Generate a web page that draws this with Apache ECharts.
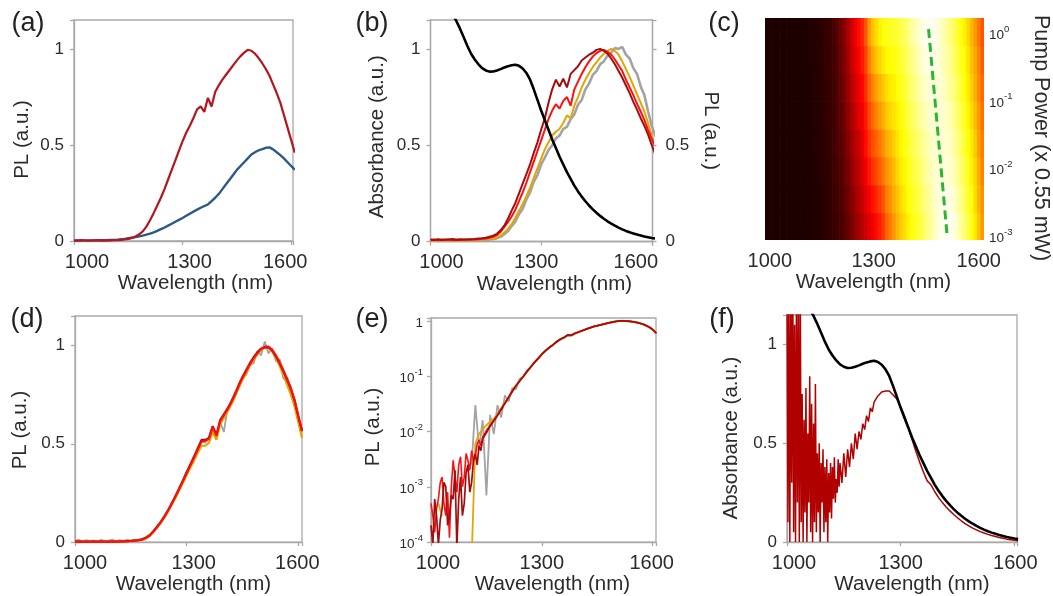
<!DOCTYPE html>
<html><head><meta charset="utf-8">
<script src="https://cdn.jsdelivr.net/npm/echarts@6/dist/echarts.min.js"></script>
<style>html,body{margin:0;padding:0;background:#fff}#c{width:1053px;height:596px}</style>
</head><body><div id="c"></div>
<script>
// ---------- shared wavelength grid (nm) ----------
const wl = [1000,1010,1020,1030,1040,1050,1060,1070,1080,1090,1100,1110,1120,1130,1140,1150,1160,1170,1180,1190,1200,1210,1220,1230,1240,1250,1260,1270,1280,1290,1300,1310,1320,1330,1340,1350,1360,1370,1380,1390,1400,1410,1420,1430,1440,1450,1460,1470,1480,1490,1500,1510,1520,1530,1540,1550,1560,1570,1580,1590,1600,1610];
const xTickLabels = [1000, 1300, 1600];
const yTickLabels = [0, 0.5, 1];

// ---------- (a) ----------
const plRedA = [.004,.002,.005,.003,.002,.004,.003,.005,.002,.004,.003,.004,.005,.006,.008,.011,.016,.024,.035,.05,.075,.108,.145,.185,.225,.27,.32,.37,.42,.47,.52,.563,.6,.64,.685,.70,.672,.745,.70,.775,.81,.84,.865,.89,.915,.94,.962,.98,.995,.99,.975,.952,.925,.895,.86,.815,.77,.72,.655,.59,.525,.46];
const plBlueA = [.002,.003,.002,.003,.003,.002,.004,.003,.004,.004,.005,.006,.007,.009,.011,.014,.017,.02,.024,.028,.033,.038,.045,.053,.062,.07,.08,.09,.1,.11,.12,.131,.142,.153,.163,.173,.182,.19,.208,.225,.245,.27,.295,.32,.345,.37,.39,.41,.43,.45,.462,.472,.478,.485,.487,.477,.462,.447,.43,.41,.39,.37];

// ---------- (b) & (f) absorbance ----------
const absorb = [1.42,1.38,1.34,1.30,1.26,1.22,1.18,1.145,1.105,1.06,1.015,.975,.945,.92,.9,.888,.882,.883,.888,.895,.903,.91,.915,.918,.912,.898,.875,.84,.79,.735,.68,.63,.58,.53,.485,.44,.4,.36,.325,.29,.26,.233,.209,.187,.167,.149,.133,.118,.105,.093,.082,.072,.063,.055,.048,.042,.036,.031,.026,.022,.018,.015];
// ---------- (b) PL at four pump powers ----------
const plDkB = [.01,.008,.012,.009,.011,.01,.013,.009,.012,.011,.01,.012,.013,.015,.017,.02,.025,.03,.04,.058,.082,.118,.16,.2,.25,.3,.35,.4,.46,.515,.58,.64,.72,.79,.84,.805,.845,.8,.87,.89,.91,.94,.955,.97,.98,.995,1.0,.99,.975,.95,.92,.885,.85,.81,.77,.725,.685,.64,.6,.555,.5,.45];
const plRedB = [.008,.01,.007,.009,.008,.01,.007,.009,.008,.009,.01,.01,.011,.012,.014,.016,.02,.025,.032,.05,.075,.1,.13,.165,.21,.255,.305,.36,.415,.47,.525,.58,.635,.68,.713,.69,.73,.75,.705,.79,.83,.87,.905,.935,.96,.978,.99,.995,.985,.97,.945,.915,.885,.84,.8,.76,.715,.675,.63,.58,.533,.49];
const plGoldB = [.006,.005,.007,.006,.005,.006,.007,.005,.006,.006,.007,.007,.008,.009,.01,.012,.014,.016,.02,.03,.046,.065,.09,.123,.16,.195,.235,.28,.33,.38,.43,.478,.515,.55,.57,.585,.615,.655,.64,.705,.75,.8,.84,.875,.905,.93,.955,.975,.99,1.0,.99,.97,.935,.895,.855,.81,.765,.72,.675,.615,.55,.5];
const plGrayB = [.006,.004,.008,.005,.007,.004,.006,.008,.005,.007,.006,.005,.007,.006,.008,.007,.01,.012,.017,.024,.038,.053,.08,.103,.142,.17,.218,.255,.31,.345,.4,.435,.475,.5,.535,.55,.585,.595,.635,.66,.71,.735,.79,.82,.865,.885,.92,.935,.965,.98,1.005,1.0,1.01,.97,.95,.9,.87,.805,.76,.675,.6,.545];

// ---------- (c) heat map: normalised PL vs wavelength, rows = pump power ----------
const pumpLog = [-2.85,-2.44,-2.03,-1.62,-1.21,-0.80,-0.39,0.02];
const heatR0 = [.03,.03,.03,.03,.03,.03,.03,.03,.03,.03,.03,.03,.032,.035,.04,.045,.05,.055,.065,.075,.09,.105,.125,.15,.18,.21,.24,.27,.3,.33,.36,.39,.42,.46,.52,.56,.6,.64,.675,.7,.73,.76,.78,.8,.83,.86,.89,.92,.95,.97,.985,.99,.985,.97,.94,.9,.86,.82,.77,.72,.66,.6];
const heatR1 = [.03,.03,.03,.03,.03,.03,.03,.03,.03,.03,.03,.03,.032,.036,.041,.046,.051,.057,.068,.079,.096,.114,.136,.164,.197,.23,.26,.29,.33,.37,.4,.43,.46,.5,.56,.59,.63,.66,.7,.72,.75,.78,.8,.82,.85,.88,.9,.93,.95,.97,.98,.98,.97,.95,.92,.88,.84,.8,.75,.7,.64,.59];
const heatR2 = [.03,.03,.03,.03,.03,.03,.03,.03,.03,.03,.03,.031,.033,.036,.041,.046,.053,.059,.071,.082,.101,.122,.146,.179,.214,.25,.28,.32,.36,.41,.45,.48,.51,.55,.59,.62,.65,.69,.72,.74,.77,.8,.82,.84,.87,.9,.92,.94,.96,.96,.97,.96,.95,.93,.9,.86,.82,.78,.73,.69,.63,.57];
const heatR3 = [.03,.03,.03,.03,.03,.03,.03,.03,.03,.03,.03,.031,.033,.037,.042,.047,.054,.061,.074,.086,.107,.131,.157,.193,.231,.27,.3,.34,.39,.45,.49,.52,.55,.59,.63,.65,.68,.71,.74,.76,.79,.82,.84,.86,.89,.91,.93,.95,.96,.96,.96,.95,.94,.91,.88,.84,.8,.76,.72,.67,.61,.56];
const heatR4 = [.03,.03,.03,.03,.03,.03,.03,.03,.03,.03,.03,.031,.034,.038,.043,.048,.056,.064,.076,.089,.113,.139,.168,.207,.249,.29,.33,.36,.41,.48,.53,.57,.6,.63,.67,.69,.71,.73,.76,.78,.81,.84,.86,.89,.91,.93,.95,.96,.96,.96,.95,.94,.92,.89,.86,.82,.78,.74,.7,.65,.6,.54];
const heatR5 = [.03,.03,.03,.03,.03,.03,.03,.03,.03,.03,.03,.031,.034,.039,.044,.049,.057,.066,.079,.093,.119,.148,.179,.221,.266,.31,.35,.38,.44,.52,.57,.61,.64,.67,.7,.72,.73,.75,.78,.8,.83,.86,.88,.91,.93,.95,.96,.97,.96,.96,.94,.92,.9,.87,.84,.8,.76,.72,.68,.63,.58,.53];
const heatR6 = [.03,.03,.03,.03,.03,.03,.03,.03,.03,.03,.03,.032,.035,.039,.044,.049,.059,.068,.082,.096,.124,.156,.189,.236,.283,.33,.37,.41,.47,.56,.62,.66,.69,.72,.74,.75,.76,.78,.8,.82,.85,.88,.9,.93,.95,.97,.98,.98,.97,.95,.93,.91,.89,.85,.82,.78,.75,.71,.66,.62,.57,.51];
const heatR7 = [.03,.03,.03,.03,.03,.03,.03,.03,.03,.03,.03,.032,.035,.04,.045,.05,.06,.07,.085,.1,.13,.165,.2,.25,.3,.35,.39,.43,.5,.6,.66,.7,.73,.76,.775,.78,.79,.8,.82,.845,.87,.9,.925,.95,.97,.985,.99,.985,.97,.95,.925,.9,.87,.835,.8,.765,.73,.69,.645,.6,.55,.5];
const heatRows = [heatR0, heatR1, heatR2, heatR3, heatR4, heatR5, heatR6, heatR7];
const peakWl = [1510, 1457];
const peakLog = [-2.95, 0.12];
const pumpTickLabels = [-3, -2, -1, 0];

// ---------- (d) normalised PL ----------
const plRedD = [.002,.003,.002,.001,.003,.002,.002,.003,.001,.002,.003,.002,.003,.004,.004,.005,.007,.009,.012,.02,.032,.052,.075,.1,.128,.16,.195,.232,.27,.31,.35,.39,.43,.47,.51,.515,.525,.585,.54,.615,.645,.675,.71,.75,.795,.835,.87,.905,.935,.96,.982,.995,.995,.978,.95,.915,.875,.83,.785,.725,.645,.57];
const plDkD = [.003,.002,.003,.002,.002,.003,.002,.002,.003,.002,.002,.003,.003,.004,.005,.006,.008,.01,.014,.022,.034,.054,.077,.102,.13,.162,.197,.235,.273,.313,.355,.395,.435,.478,.52,.52,.53,.59,.545,.62,.65,.68,.715,.755,.8,.84,.875,.91,.94,.965,.985,.99,.99,.975,.945,.91,.87,.825,.78,.72,.64,.565];
const plGoldD = [.002,.001,.002,.002,.001,.002,.002,.001,.002,.002,.002,.002,.003,.003,.004,.005,.006,.008,.011,.018,.03,.05,.072,.097,.124,.155,.19,.226,.263,.302,.34,.378,.415,.455,.49,.49,.505,.56,.52,.6,.63,.665,.7,.74,.785,.825,.862,.898,.928,.955,.978,.99,.988,.968,.935,.895,.85,.8,.75,.69,.61,.53];
const plGrayD = [.006,.012,.003,.01,.004,.009,.002,.011,.005,.008,.013,.004,.01,.006,.012,.007,.011,.009,.016,.02,.036,.05,.08,.098,.132,.158,.2,.228,.275,.305,.355,.385,.438,.462,.515,.505,.53,.58,.535,.61,.56,.68,.7,.758,.78,.84,.85,.9,.91,.97,.95,1.02,.96,.985,.92,.93,.83,.84,.77,.72,.63,.56];

// ---------- (e) PL on log scale ----------
// noisy tails, 5 nm steps (1000-1145 nm)
const eTailWl = [1000,1005,1010,1015,1020,1025,1030,1035,1040,1045,1050,1055,1060,1065,1070,1075,1080,1085,1090,1095,1100,1105,1110,1115,1120,1125,1130,1135,1140,1145];
const plRedETail = [5e-4,3e-4,1.5e-4,4e-4,6e-4,1.2e-3,1.5e-3,5e-4,3e-4,8e-4,1.2e-4,1e-3,3e-3,1.5e-3,8e-4,2.5e-3,3.5e-3,1e-3,1.5e-3,4e-3,3e-3,2e-3,4.5e-3,3e-3,3.5e-3,6e-3,7e-3,5.5e-3,8e-3,9e-3];
const plDkETail = [2e-4,9e-5,6e-4,3e-4,9e-5,2.5e-4,4e-4,1.2e-3,1e-3,2e-4,3e-4,7e-4,6e-4,2e-3,8e-5,6e-4,1.5e-3,3e-4,5e-4,1.8e-3,2.5e-3,8e-4,1.2e-3,3e-3,4e-3,2.5e-3,5.5e-3,4.5e-3,7.5e-3,8e-3];
// 1150-1610 nm, 10 nm steps
const plRedE = [.0105,.013,.016,.02,.026,.033,.042,.054,.068,.083,.1,.123,.148,.178,.21,.25,.29,.33,.37,.42,.47,.5,.56,.55,.6,.63,.67,.71,.75,.79,.82,.85,.885,.92,.95,.98,1.0,1.0,.995,.98,.96,.93,.89,.84,.78,.7,.6];
const plDkE = [.0095,.0125,.0155,.0195,.025,.032,.041,.053,.067,.082,.1,.122,.147,.177,.21,.25,.29,.33,.37,.42,.465,.5,.555,.55,.6,.63,.67,.71,.75,.79,.82,.85,.885,.92,.95,.98,1.0,1.0,.995,.98,.96,.93,.89,.84,.78,.7,.6];
// full 1000-1610 nm (null = not positive)
const plGoldE = [null,null,5e-4,3e-4,null,null,null,null,null,null,null,5e-5,.006,.009,.011,.013,.015,.017,.021,.026,.033,.042,.053,.066,.081,.098,.12,.145,.175,.207,.246,.286,.326,.366,.415,.46,.495,.55,.545,.595,.625,.665,.705,.745,.785,.815,.845,.88,.915,.945,.975,.995,.995,.99,.975,.95,.92,.88,.83,.77,.69,.59];
const plGrayE = [null,null,null,null,null,null,null,null,null,null,null,.0025,.03,.005,.016,.0007,.02,.009,.03,.018,.045,.035,.062,.058,.09,.098,.128,.145,.182,.207,.252,.287,.335,.365,.425,.46,.505,.55,.555,.595,.635,.665,.715,.745,.795,.815,.855,.88,.925,.945,.985,.99,1.01,.985,.985,.955,.935,.885,.845,.775,.7,.6];

// ---------- (f) absorbance-like PLE ----------
const pleNoiseWl = [1000,1002.5,1005,1007.5,1010,1012.5,1015,1017.5,1020,1022.5,1025,1027.5,1030,1032.5,1035,1037.5,1040,1042.5,1045,1047.5,1050,1052.5,1055,1057.5,1060,1062.5,1065,1067.5,1070,1072.5,1075,1077.5,1080,1082.5,1085,1087.5,1090,1092.5,1095,1097.5,1100,1102.5,1105,1107.5,1110,1112.5,1115,1117.5,1120,1122.5,1125,1127.5,1130,1132.5,1135,1137.5,1140];
const pleNoise = [1.3,.1,1.4,0,1.2,.3,1.5,.05,1.1,0,1.3,.2,1.2,0,1.35,.1,.75,0,.62,.15,.78,0,.55,.2,.84,.05,.7,0,.6,.1,.8,.05,.45,.15,.5,0,.4,.2,.47,.05,.38,.1,.42,0,.35,.15,.4,.12,.38,.22,.43,.2,.32,.25,.42,.28,.4];
const pleMidWl = [1145,1150,1155,1160,1165,1170,1175,1180,1185,1190,1195,1200,1205,1210,1215,1220,1225,1230,1235,1240,1245,1250,1255,1260,1265,1270,1275];
const pleMid = [.3,.45,.33,.47,.38,.5,.42,.55,.47,.56,.52,.6,.57,.64,.61,.68,.66,.71,.7,.74,.73,.76,.75,.765,.755,.765,.755];
const pleSmooth = [.745,.725,.685,.64,.58,.52,.46,.405,.355,.31,.29,.255,.225,.2,.178,.158,.14,.123,.108,.094,.082,.071,.062,.053,.046,.039,.033,.028,.023,.019,.015,.012,.009,.007];

// ---------- helpers ----------
const FONT = '"Liberation Sans", Arial, Helvetica, sans-serif';
const TXT = '#2b2b2b';
const AX = '#a9a9a9';
const pairs = (xs, ys) => xs.map((x, i) => [x, ys[i]]);
const logPairs = (xs, ys) => xs.map((x, i) => [x, (ys[i] == null || ys[i] <= 0) ? null : ys[i]]);
const pad = s => s >= 0 ? [0, 0, 0, 2 * s] : [0, -2 * s, 0, 0];

const C = { dk: '#a50d0d', red: '#ff1010', gold: '#e3a600', gray: '#a3a3a3', black: '#000', blueA: '#2c5a86', redA: '#b3161c', green: '#2cb52f' };

function grid(l, t, w, h, frame) {
  return { left: l, top: t, width: w, height: h, show: frame, borderColor: AX, borderWidth: 1.3, containLabel: false };
}
// shifts: horizontal nudges of the three tick labels, and of the title (layout only)
function xAx(gi, min, max, shifts, titleShift, opt = {}) {
  const rich = {};
  shifts.forEach((s, i) => { rich['p' + i] = { fontFamily: FONT, fontSize: 20, color: TXT, padding: pad(s) }; });
  return Object.assign({
    type: 'value', gridIndex: gi, min, max, interval: 300,
    name: 'Wavelength (nm)', nameLocation: 'middle', nameGap: 26,
    nameTextStyle: { fontFamily: FONT, fontSize: 20.5, color: TXT, padding: pad(titleShift) },
    axisLine: { show: true, lineStyle: { color: AX, width: 1.3 } },
    axisTick: { show: true, length: 4, lineStyle: { color: AX, width: 1.3 } },
    splitLine: { show: false },
    axisLabel: { fontFamily: FONT, fontSize: 20, color: TXT, margin: 11, showMinLabel: true, showMaxLabel: true, hideOverlap: false, rich,
      formatter: v => { const i = xTickLabels.findIndex(t => Math.abs(t - v) < 1e-6); return i < 0 ? '' : '{p' + i + '|' + xTickLabels[i] + '}'; } }
  }, opt);
}
function yAx(gi, name, gap, nameShift, opt = {}) {
  // nameShift > 0 moves the rotated title downwards
  return Object.assign({
    type: 'value', gridIndex: gi, min: 0, max: 1.15, interval: 0.5,
    name, nameLocation: 'middle', nameGap: gap, nameRotate: 90,
    nameTextStyle: { fontFamily: FONT, fontSize: 20.5, color: TXT, padding: pad(-nameShift) },
    axisLine: { show: true, lineStyle: { color: AX, width: 1.3 } },
    axisTick: { show: true, length: 4, lineStyle: { color: AX, width: 1.3 } },
    splitLine: { show: false },
    axisLabel: { fontFamily: FONT, fontSize: 17, color: TXT, margin: 10,
      formatter: v => yTickLabels.some(t => Math.abs(t - v) < 1e-6) ? String(v) : '' }
  }, opt);
}
const supRich = {
  b: { fontFamily: FONT, fontSize: 13.5, color: TXT, lineHeight: 18, verticalAlign: 'bottom' },
  s: { fontFamily: FONT, fontSize: 9.5, color: TXT, lineHeight: 18, verticalAlign: 'top' }
};
function line(xi, yi, data, color, width, z) {
  return { type: 'line', xAxisIndex: xi, yAxisIndex: yi, data, showSymbol: false, symbol: 'none',
    lineStyle: { color, width }, itemStyle: { color }, z: z || 2, animation: false, connectNulls: false, clip: true };
}

// heat map cells
const heatData = [];
heatRows.forEach((row, i) => row.forEach((v, j) => heatData.push([wl[j], pumpLog[i], v])));
const wlE = wl.slice(15);

const series = [
  // (a)
  line(0, 0, pairs(wl, plBlueA), C.blueA, 2.4),
  line(0, 0, pairs(wl, plRedA), C.redA, 2.2),
  // (b)
  line(1, 2, pairs(wl, plGrayB), C.gray, 2.6),
  line(1, 2, pairs(wl, plGoldB), C.gold, 2),
  line(1, 2, pairs(wl, plRedB), C.red, 2),
  line(1, 2, pairs(wl, plDkB), C.dk, 2),
  line(1, 1, pairs(wl, absorb), C.black, 2.6, 3),
  // (c)
  { type: 'custom', xAxisIndex: 2, yAxisIndex: 3, data: heatData, animation: false, clip: true,
    renderItem: (params, api) => {
      const x = api.value(0), y = api.value(1);
      const p1 = api.coord([x - 5, y + 0.205]);
      const p2 = api.coord([x + 5, y - 0.205]);
      return { type: 'rect', shape: { x: p1[0], y: p1[1], width: p2[0] - p1[0] + 0.7, height: p2[1] - p1[1] + 0.7 },
        style: { fill: api.visual('color') } };
    } },
  { type: 'line', xAxisIndex: 2, yAxisIndex: 3, data: pairs(peakWl, peakLog), showSymbol: false, symbol: 'none',
    lineStyle: { color: C.green, width: 3, type: [9, 5] }, z: 5, animation: false },
  // (d)
  line(3, 4, pairs(wl, plGrayD), C.gray, 1.8),
  line(3, 4, pairs(wl, plGoldD), C.gold, 2.2),
  line(3, 4, pairs(wl, plDkD), C.dk, 2.2),
  line(3, 4, pairs(wl, plRedD), C.red, 2),
  // (e)
  line(4, 5, logPairs(wl, plGrayE), C.gray, 1.8),
  line(4, 5, logPairs(wl, plGoldE), C.gold, 1.8),
  line(4, 5, logPairs(eTailWl, plRedETail).concat(logPairs(wlE, plRedE)), C.red, 1.6),
  line(4, 5, logPairs(eTailWl, plDkETail).concat(logPairs(wlE, plDkE)), C.dk, 1.7),
  // (f)
  line(5, 6, pairs(pleNoiseWl, pleNoise).concat(pairs(pleMidWl, pleMid), pairs(wl.slice(28), pleSmooth)), '#b00000', 1.5),
  line(5, 6, pairs(wl, absorb), C.black, 2.6, 3),
];
const heatIndex = series.findIndex(s => s.type === 'custom');

const hot = ['#0b0000', '#550000', '#aa0000', '#ff0000', '#ff5500', '#ffaa00', '#ffff00', '#ffff80', '#ffffff'];

const option = {
  backgroundColor: '#fff',
  animation: false,
  textStyle: { fontFamily: FONT },
  grid: [
    grid(74, 20, 219, 221, true),
    grid(430.5, 20, 222, 221.5, true),
    grid(765, 18, 220, 222, false),
    grid(75, 316, 227, 227, true),
    grid(431, 318, 225, 227, true),
    grid(787, 315, 230, 229, true),
  ],
  xAxis: [
    xAx(0, 1000, 1605, [13, 7, -6], 12),
    xAx(1, 1000, 1602, [11, -5, -16], 13),
    xAx(2, 995, 1615, [3, 1, 0], -1, { interval: null, splitNumber: 6, nameGap: 30, axisLine: { show: false }, axisTick: { show: false } }),
    xAx(3, 1000, 1610, [10, 7, -1], 5, { nameGap: 21 }),
    xAx(4, 1000, 1609, [7, 0, -1], 9),
    xAx(5, 1000, 1607, [7, 0, 1], 10),
  ],
  yAxis: [
    yAx(0, 'PL (a.u.)', 41, 9),
    yAx(1, 'Absorbance (a.u.)', 43, 6),
    yAx(1, 'PL (a.u.)', 48, 0, { position: 'right', nameRotate: -90, axisLabel: { fontFamily: FONT, fontSize: 17, color: TXT, margin: 13,
      formatter: v => yTickLabels.some(t => Math.abs(t - v) < 1e-6) ? String(v) : '' } }),
    { type: 'value', gridIndex: 2, position: 'right', min: -3.05, max: 0.22, splitNumber: 3, minInterval: 1, maxInterval: 1,
      name: 'Pump Power (x 0.55 mW)', nameLocation: 'middle', nameRotate: -90, nameGap: 46,
      nameTextStyle: { fontFamily: FONT, fontSize: 21.5, color: TXT, padding: [0, 0, 0, 18] },
      axisLine: { show: false }, axisTick: { show: false }, splitLine: { show: false },
      axisLabel: { margin: 5, rich: supRich,
        formatter: v => pumpTickLabels.some(t => Math.abs(t - v) < 1e-6) ? '{b|10}{s|' + Math.round(v) + '}' : '' } },
    yAx(3, 'PL (a.u.)', 44, 1),
    { type: 'log', logBase: 10, gridIndex: 4, min: 1e-4, max: 1.13,
      name: 'PL (a.u.)', nameLocation: 'middle', nameGap: 47, nameRotate: 90,
      nameTextStyle: { fontFamily: FONT, fontSize: 20.5, color: TXT, padding: pad(3) },
      axisLine: { show: true, lineStyle: { color: AX, width: 1.3 } },
      axisTick: { show: true, length: 4, lineStyle: { color: AX, width: 1.3 } },
      splitLine: { show: false }, minorTick: { show: false },
      axisLabel: { margin: 8, rich: supRich, fontFamily: FONT, fontSize: 13.5, color: TXT,
        formatter: v => { const e = Math.log10(v); const r = Math.round(e); if (Math.abs(e - r) > 0.02) return ''; return r === 0 ? '{b|1}' : '{b|10}{s|' + r + '}'; } } },
    yAx(5, 'Absorbance (a.u.)', 45, 9.5),
  ],
  visualMap: [{ type: 'continuous', show: false, seriesIndex: heatIndex, dimension: 2, min: 0, max: 1, inRange: { color: hot } }],
  series,
  graphic: [
    ['(a)', 28, 24], ['(b)', 372, 24], ['(c)', 724, 24],
    ['(d)', 27, 320], ['(e)', 372, 320], ['(f)', 722, 320]
  ].map(([t, x, y]) => ({ type: 'text', x, y, style: { text: t, fontFamily: FONT, fontSize: 27, fill: '#222', textAlign: 'center', textVerticalAlign: 'middle' } }))
};

const chart = echarts.init(document.getElementById('c'), null, { renderer: 'canvas' });
chart.setOption(option);
</script>
</body></html>
